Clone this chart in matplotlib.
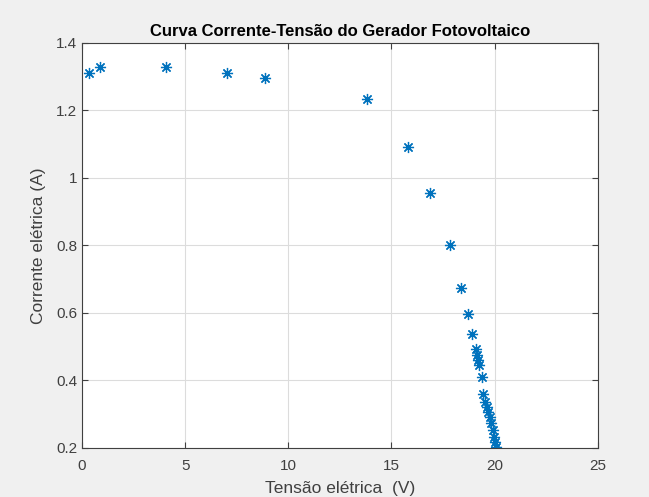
import matplotlib.pyplot as plt

tensao = [0.34, 0.87, 4.07, 7.03, 8.87, 13.8, 15.8, 16.86, 17.83,
          18.36, 18.69, 18.91, 19.12, 19.17, 19.20, 19.25, 19.37, 19.44,
          19.52, 19.61, 19.68, 19.77, 19.85, 19.90, 19.96, 20.01, 20.09]
corrente = [1.31, 1.33, 1.33, 1.31, 1.295, 1.235, 1.093, 0.957, 0.80,
            0.673, 0.596, 0.539, 0.493, 0.476, 0.461, 0.446, 0.409, 0.359,
            0.337, 0.322, 0.307, 0.293, 0.273, 0.253, 0.234, 0.219, 0.204]

plt.rcParams['font.family'] = ['Liberation Sans', 'DejaVu Sans']

fig = plt.figure(figsize=(6.49, 4.97), dpi=100, facecolor='#f0f0f0')
ax = fig.add_axes([0.1264, 0.0986, 0.7946, 0.8149])

ax.plot(tensao, corrente, linestyle='none', marker=(8, 2, 0),
        markersize=8, markeredgewidth=0.9, color='#0072BD')

ax.set_xlim(0, 25)
ax.set_ylim(0.2, 1.4)
ax.set_xticks([0, 5, 10, 15, 20, 25])
ax.set_yticks([0.2, 0.4, 0.6, 0.8, 1.0, 1.2, 1.4])
ax.set_yticklabels(['0.2', '0.4', '0.6', '0.8', '1', '1.2', '1.4'])
ax.grid(True, color='#dcdcdc', linewidth=0.8)
ax.set_axisbelow(True)
ax.tick_params(direction='in', length=4, labelsize=11, colors='#404040',
               top=True, right=True, labeltop=False, labelright=False)
ax.tick_params(axis='x', pad=8)
for s in ax.spines.values():
    s.set_color('#404040')
    s.set_linewidth(0.8)

ax.set_xlabel('Tensão elétrica  (V)', fontsize=12.5, color='#404040', labelpad=6)
ax.set_ylabel('Corrente elétrica (A)', fontsize=12.5, color='#404040', labelpad=7)
ax.set_title('Curva Corrente-Tensão do Gerador Fotovoltaico', fontsize=12,
             fontweight='bold', color='black', pad=5)

fig.savefig('out.png', dpi=100, facecolor=fig.get_facecolor())
